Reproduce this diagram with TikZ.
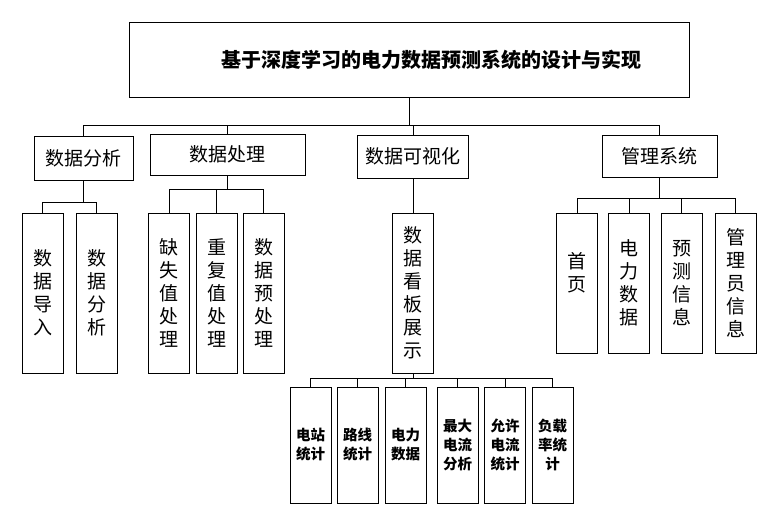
\documentclass[tikz,border=0pt]{standalone}
\usepackage{fontspec}
\newfontfamily\cjk{Noto Sans CJK SC}
\begin{document}
\begin{tikzpicture}[x=1pt,y=-1pt,
    box/.style={draw,line width=0.9pt,inner sep=0pt,font=\cjk\fontsize{19}{23}\selectfont},
    vbox/.style={box,minimum width=41pt,align=center},
    sbox/.style={draw,line width=0.9pt,inner sep=0pt,minimum width=41pt,minimum height=116pt,align=center,font=\cjk\bfseries\fontsize{14.5}{19}\selectfont},
    link/.style={line width=0.7pt}]
        \useasboundingbox (0,0) rectangle (779,527);
        \node[box,minimum width=560pt,minimum height=75pt,font=\cjk\bfseries\fontsize{20}{24}\selectfont] (title) at (409,59.5) {\hspace*{44pt}基于深度学习的电力数据预测系统的设计与实现};
        % first level
        \node[box,minimum width=99pt,minimum height=44pt] (fx) at (83.5,158) {数据分析};
        \node[box,minimum width=155pt,minimum height=41pt] (cl) at (227.5,154.5) {数据处理};
        \node[box,minimum width=111pt,minimum height=43pt] (ksh) at (413,156.5) {数据可视化};
        \node[box,minimum width=115pt,minimum height=42pt] (gl) at (659.5,156) {管理系统};
        % second level
        \node[vbox,minimum height=160pt] (dr) at (42.5,293) {数\\据\\导\\入};
        \node[vbox,minimum height=160pt] (fx2) at (96.5,293) {数\\据\\分\\析};
        \node[vbox,minimum height=160pt] (qs) at (169,293) {缺\\失\\值\\处\\理};
        \node[vbox,minimum height=160pt] (cf) at (216.5,293) {重\\复\\值\\处\\理};
        \node[vbox,minimum height=160pt] (ycl) at (263.5,293) {数\\据\\预\\处\\理};
        \node[vbox,minimum height=160pt] (kb) at (413,293) {数\\据\\看\\板\\展\\示};
        \node[vbox,minimum height=140pt] (sy) at (577,283) {首\\页\\~};
        \node[vbox,minimum height=140pt] (dlsj) at (629,283) {电\\力\\数\\据};
        \node[vbox,minimum height=140pt] (ycxx) at (681.5,283) {预\\测\\信\\息};
        \node[vbox,minimum height=140pt] (glyxx) at (735.5,283) {管\\理\\员\\信\\息};
        % third level
        \node[sbox] (dz) at (310.5,445) {电站\\统计};
        \node[sbox] (lx) at (357.5,445) {路线\\统计};
        \node[sbox] (dl) at (405.5,445) {电力\\数据};
        \node[sbox] (zd) at (457.5,445) {最大\\电流\\分析};
        \node[sbox] (yx) at (505,445) {允许\\电流\\统计};
        \node[sbox] (fz) at (552.5,445) {负载\\率统\\计};
        % connectors
        \coordinate (j0) at (409,125);
        \coordinate (j1) at (83.5,202);
        \coordinate (j2) at (227.5,189);
        \coordinate (j3) at (659.5,198);
        \coordinate (j4) at (413,378);
        \draw[link] (title.south) -- (j0);
        \foreach \n in {fx,cl,ksh,gl} \draw[link] (j0) -| (\n.north);
        \draw[link] (fx.south) -- (j1);
        \foreach \n in {dr,fx2} \draw[link] (j1) -| (\n.north);
        \draw[link] (cl.south) -- (j2);
        \foreach \n in {qs,cf,ycl} \draw[link] (j2) -| (\n.north);
        \draw[link] (ksh.south) -- (kb.north);
        \draw[link] (gl.south) -- (j3);
        \foreach \n in {sy,dlsj,ycxx,glyxx} \draw[link] (j3) -| (\n.north);
        \draw[link] (kb.south) -- (j4);
        \foreach \n in {dz,lx,dl,zd,yx,fz} \draw[link] (j4) -| (\n.north);
\end{tikzpicture}
\end{document}
